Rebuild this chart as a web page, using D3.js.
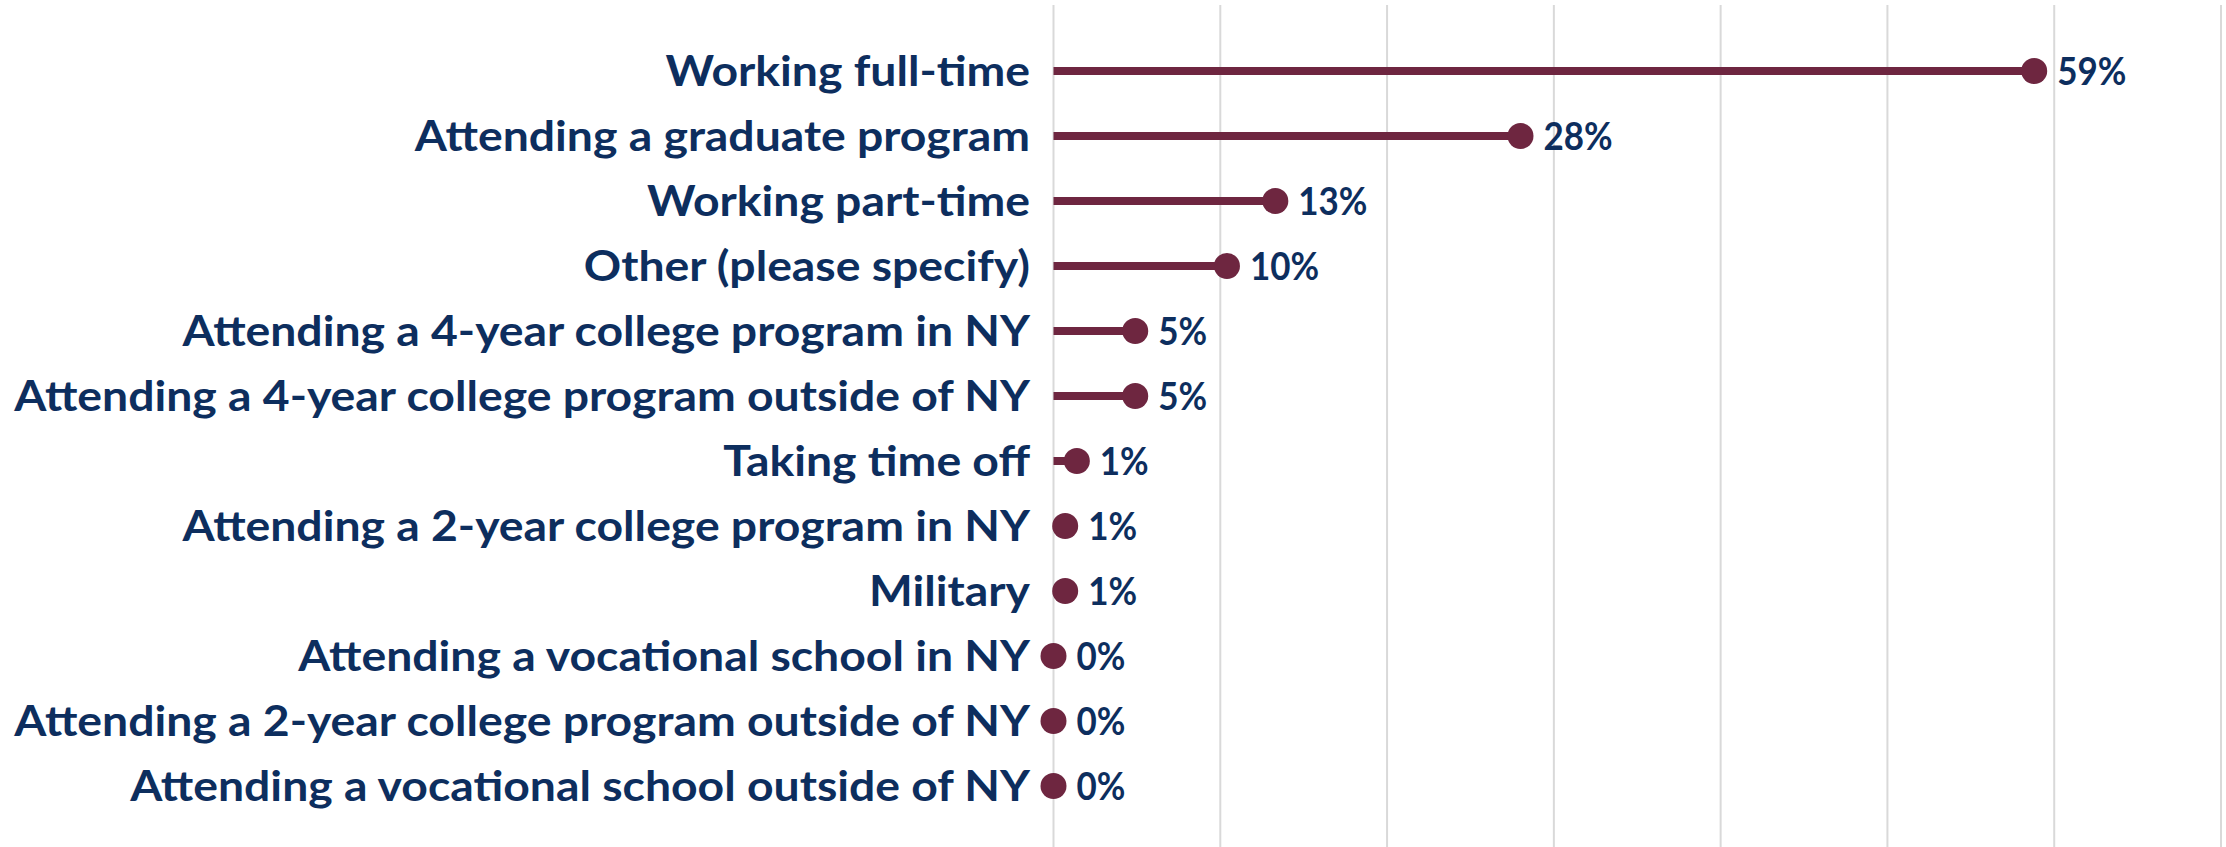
<!DOCTYPE html>
<html>
<head>
<meta charset="utf-8">
<script src="https://cdn.jsdelivr.net/npm/d3@7"></script>
<style>
html,body{margin:0;padding:0;background:#fff;}
svg{display:block;}
</style>
</head>
<body>
<svg id="chart" width="2226" height="847"></svg>
<script>
const categories = [
  "Working full-time",
  "Attending a graduate program",
  "Working part-time",
  "Other (please specify)",
  "Attending a 4-year college program in NY",
  "Attending a 4-year college program outside of NY",
  "Taking time off",
  "Attending a 2-year college program in NY",
  "Military",
  "Attending a vocational school in NY",
  "Attending a 2-year college program outside of NY",
  "Attending a vocational school outside of NY"
];
const values = [58.8, 28.0, 13.3, 10.4, 4.9, 4.9, 1.4, 0.7, 0.7, 0, 0, 0];
const gridTicks = [0, 10, 20, 30, 40, 50, 60, 70];

const W = 2226, H = 847;
const svg = d3.select("#chart");
const x = d3.scaleLinear().domain([0, 70]).range([1053.5, 2221]);
const y = d3.scalePoint().domain(categories).range([71, 786]);

const maroon = "#6e2640", navy = "#0d2e5e";
const font = "Lato, 'Open Sans', sans-serif";

// gridlines
svg.append("g").selectAll("line").data(gridTicks).join("line")
  .attr("x1", d => x(d)).attr("x2", d => x(d))
  .attr("y1", 5).attr("y2", H)
  .attr("stroke", "#d9d9d9").attr("stroke-width", 2);

// stems
svg.append("g").selectAll("line").data(values).join("line")
  .attr("x1", x(0)).attr("x2", d => x(d))
  .attr("y1", (d, i) => y(categories[i])).attr("y2", (d, i) => y(categories[i]))
  .attr("stroke", maroon).attr("stroke-width", 8);

// dots
svg.append("g").selectAll("circle").data(values).join("circle")
  .attr("cx", d => x(d)).attr("cy", (d, i) => y(categories[i]))
  .attr("r", 13).attr("fill", maroon);

// category labels
const labels = svg.append("g").selectAll("text").data(categories).join("text")
  .text(d => d)
  .attr("font-family", font).attr("font-weight", 700).attr("font-size", 42)
  .attr("fill", navy).attr("text-anchor", "end");
let maxW = 0;
labels.each(function(){ maxW = Math.max(maxW, this.getComputedTextLength()); });
const k = 1016 / maxW;
labels.attr("transform", d => `translate(1030,${y(d) + 15}) scale(${k},1)`);

// value labels
svg.append("g").selectAll("text").data(values).join("text")
  .text(d => d3.format(".0f")(d) + "%")
  .attr("font-family", font).attr("font-weight", 700).attr("font-size", 38)
  .attr("fill", navy).attr("text-anchor", "start")
  .attr("transform", (d, i) => `translate(${x(d) + 23},${y(categories[i]) + 14}) scale(0.92,1)`);
</script>
</body>
</html>
